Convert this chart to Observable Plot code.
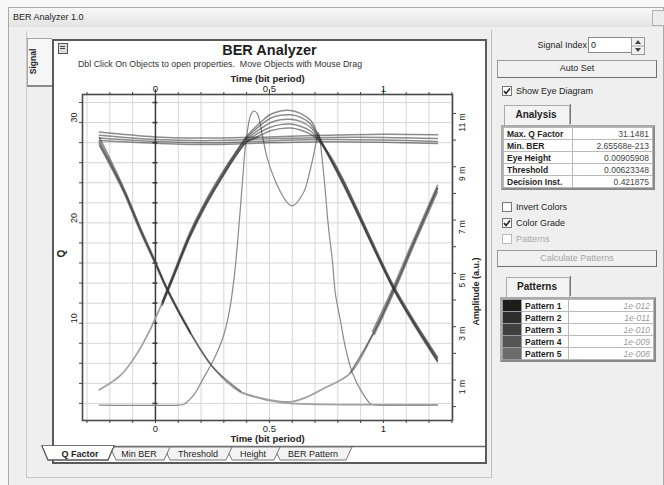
<!DOCTYPE html>
<html><head><meta charset="utf-8">
<script src="https://cdn.jsdelivr.net/npm/d3@7"></script>
<script src="https://cdn.jsdelivr.net/npm/@observablehq/plot@0.6"></script>
<style>
html,body{margin:0;padding:0}
body{width:664px;height:485px;background:#f7f7f7;font-family:"Liberation Sans",Arial,sans-serif;position:relative;overflow:hidden;color:#1e1e1e}
.a{position:absolute}
.t9{font-size:9px;line-height:11px;white-space:nowrap}
.btn{border:1px solid #9a9a9a;border-right-color:#6f6f6f;border-bottom-color:#6f6f6f;background:#f1f1f1;text-align:center;font-size:9px;line-height:15px}
table{border-collapse:collapse;font-size:8.5px}
td{border:1px solid #b9b9b9;height:11px;padding:0 3px;white-space:nowrap;background:#fff}
</style></head>
<body>
<!-- window chrome -->
<div class="a" style="left:8px;top:7px;width:654px;height:480px;border:1px solid #a9a9a9;background:#efefef"></div>
<div class="a" style="left:9px;top:8px;width:654px;height:19px;background:linear-gradient(#f7f7f7,#e3e3e3)"></div>
<div class="a t9" style="left:13px;top:12px">BER Analyzer 1.0</div>
<div class="a" style="left:652px;top:10px;width:12px;height:14px;border:1px solid #b0b0b0;background:#ececec"></div>
<div class="a" style="left:26px;top:31px;width:465px;height:446px;border-left:1px solid #c9c9c9;border-bottom:1px solid #c9c9c9"></div>
<div class="a" style="left:27px;top:38px;width:24px;height:47px;border:1px solid #a8a8a8;border-right:none;background:#f6f6f6"></div>
<div class="a" style="left:27px;top:85px;width:25px;height:2px;background:#8a8a8a"></div>
<div class="a t9" style="left:21px;top:56px;transform:rotate(-90deg);font-weight:bold;font-size:8.5px">Signal</div>
<div class="a" style="left:491px;top:30px;width:1px;height:448px;background:#bdbdbd"></div>

<!-- chart panel -->
<div class="a" style="left:52px;top:39px;width:431px;height:421px;border:2px solid #5a5a5a;background:#fff"></div>
<div class="a" style="left:58px;top:43px;width:8px;height:9px;border:1px solid #555;background:#ddd"></div>
<div class="a" style="left:60px;top:46px;width:5px;height:1px;background:#444"></div>
<div class="a" style="left:60px;top:48px;width:5px;height:1px;background:#444"></div>
<div class="a" style="left:54px;top:41px;width:431px;text-align:center;font-weight:bold;font-size:14.5px;line-height:18px">BER Analyzer</div>
<div class="a t9" style="left:78px;top:59px;font-size:8.8px;color:#333">Dbl Click On Objects to open properties.&nbsp; Move Objects with Mouse Drag</div>
<div id="chart" class="a" style="left:53px;top:70px"></div>
<svg class="a" style="left:38px;top:444px" width="450" height="22">
  <line x1="16" y1="2.5" x2="447" y2="2.5" stroke="#6a6a6a" stroke-width="1.5"/>
  <polygon points="236,3 242,16 308,16 314,3" fill="#f3f3f3" stroke="#777"/>
  <polygon points="188,3 194,16 236,16 242,3" fill="#f3f3f3" stroke="#777"/>
  <polygon points="126,3 132,16 188,16 194,3" fill="#f3f3f3" stroke="#777"/>
  <polygon points="72,3 78,16 126,16 132,3" fill="#f3f3f3" stroke="#777"/>
  <polygon points="4,2 10,16 70,16 76,2" fill="#fff" stroke="#555" stroke-width="1.3"/>
  <line x1="5" y1="3" x2="75" y2="3" stroke="#fff" stroke-width="2"/>
  <g font-family="Liberation Sans, Arial, sans-serif" font-size="9" fill="#222" text-anchor="middle">
    <text x="42" y="13" font-weight="bold">Q Factor</text>
    <text x="101" y="13">Min BER</text>
    <text x="160" y="13">Threshold</text>
    <text x="215" y="13">Height</text>
    <text x="275" y="13">BER Pattern</text>
  </g>
</svg>

<!-- right panel -->
<div class="a t9" style="left:528px;top:40px;width:59px;text-align:right">Signal Index</div>
<div class="a t9" style="left:588px;top:37px;width:40px;height:14px;border:1px solid #8a8a8a;background:#fff;padding-left:2px;line-height:14px">0</div>
<div class="a" style="left:631px;top:37px;width:12px;height:16px;border:1px solid #9a9a9a;background:#f1f1f1"></div>
<svg class="a" style="left:631px;top:37px" width="14" height="18"><path d="M4,7 L7,3 L10,7Z M4,11 L7,15 L10,11Z" fill="#444"/><line x1="1" y1="9" x2="13" y2="9" stroke="#aaa"/></svg>
<div class="a btn" style="left:497px;top:60px;width:158px;height:16px">Auto Set</div>

<svg class="a" style="left:502px;top:86px" width="11" height="11"><rect x="0.5" y="0.5" width="9" height="9" fill="#fff" stroke="#777"/><path d="M2,5 L4,7.5 L8,2.5" fill="none" stroke="#222" stroke-width="1.6"/></svg>
<div class="a t9" style="left:516px;top:86px">Show Eye Diagram</div>

<div class="a" style="left:504px;top:105px;width:64px;height:19px;border:1px solid #aaa;border-bottom:none;background:#f3f3f3"></div>
<div class="a" style="left:570px;top:104px;width:1px;height:20px;background:#777"></div>
<div class="a t9" style="left:504px;top:109px;width:64px;text-align:center;font-weight:bold;font-size:10px">Analysis</div>
<div class="a" style="left:501px;top:125px;border:2px solid #8a8a8a;border-top-color:#aaa;border-left-color:#aaa">
<table id="anal" style="width:150px"></table></div>

<svg class="a" style="left:502px;top:202px" width="11" height="11"><rect x="0.5" y="0.5" width="9" height="9" fill="#fff" stroke="#777"/></svg>
<div class="a t9" style="left:516px;top:202px">Invert Colors</div>
<svg class="a" style="left:502px;top:218px" width="11" height="11"><rect x="0.5" y="0.5" width="9" height="9" fill="#fff" stroke="#777"/><path d="M2,5 L4,7.5 L8,2.5" fill="none" stroke="#222" stroke-width="1.6"/></svg>
<div class="a t9" style="left:516px;top:218px">Color Grade</div>
<svg class="a" style="left:502px;top:234px" width="11" height="11"><rect x="0.5" y="0.5" width="9" height="9" fill="#fff" stroke="#bbb"/></svg>
<div class="a t9" style="left:516px;top:234px;color:#aaa">Patterns</div>
<div class="a btn" style="left:497px;top:250px;width:158px;height:15px;color:#a5a5a5;line-height:14px">Calculate Patterns</div>

<div class="a" style="left:506px;top:277px;width:62px;height:19px;border:1px solid #aaa;border-bottom:none;background:#f3f3f3"></div>
<div class="a" style="left:570px;top:276px;width:1px;height:20px;background:#777"></div>
<div class="a t9" style="left:506px;top:281px;width:62px;text-align:center;font-weight:bold;font-size:10px">Patterns</div>
<div class="a" style="left:500px;top:297px;border:2px solid #8a8a8a;border-top-color:#aaa;border-left-color:#aaa">
<table id="pat" style="width:152px"></table></div>

<script>
// ---------- panel data ----------
const analysisLabels = ["Max. Q Factor", "Min. BER", "Eye Height", "Threshold", "Decision Inst."];
const analysisValues = ["31.1481", "2.65568e-213", "0.00905908", "0.00623348", "0.421875"];
const patternLabels = ["Pattern 1", "Pattern 2", "Pattern 3", "Pattern 4", "Pattern 5"];
const patternValues = ["1e-012", "1e-011", "1e-010", "1e-009", "1e-008"];
const patternColors = ["#1c1c1c", "#2e2e2e", "#404040", "#545454", "#6c6c6c"];

// ---------- axis ticks ----------
const xDomain = [-0.32, 1.303];
const qDomain = [0.3, 32.8];
const ampDomain = [-0.52, 11.71];
const xMinorTicks = [-0.3,-0.2,-0.1,0,0.1,0.2,0.3,0.4,0.5,0.6,0.7,0.8,0.9,1,1.1,1.2,1.3];
const xLabelTicks = [0, 0.5, 1];
const qMinorTicks = [2,4,6,8,10,12,14,16,18,20,22,24,26,28,30,32];
const qLabelTicks = [10, 20, 30];
const ampMinorTicks = [0,1,2,3,4,5,6,7,8,9,10,11];
const ampLabelTicks = [1, 3, 5, 7, 9, 11];

// ---------- Q factor vs time [t, Q] ----------
const qFactor = [[-0.246,1.84],[0.1,1.84],[0.123,1.9],[0.17,2.9],[0.21,4.5],[0.254,6.3],[0.298,8.7],[0.325,11.3],[0.345,14.5],
 [0.36,18.0],[0.382,24.2],[0.395,27.7],[0.417,30.7],[0.43,31.15],[0.447,30.9],[0.469,28.7],[0.491,26.4],
 [0.535,23.7],[0.579,22.0],[0.601,21.7],[0.649,23.0],[0.68,25.4],[0.702,27.7],[0.715,29.0],[0.732,26.2],
 [0.746,22.9],[0.759,19.55],[0.776,16.27],[0.789,12.99],[0.811,10.3],[0.833,7.61],[0.864,5.03],[0.908,3.03],
 [0.945,1.95],[0.975,1.84],[1.237,1.84]];

// ---------- eye diagram traces [t, amplitude (m a.u.)] : light (sparse) ----------
const eyeRiseLeft = [[-0.246,0.63],[-0.15,1.2],[-0.08,2.0],[-0.02,2.95],[0.03,3.9],[0.08,4.95],[0.15,6.4],[0.22,7.6],[0.29,8.6],[0.35,9.4],[0.404,9.95],[0.45,10.1]];
const eyeFallRiseLow = [[-0.246,9.88],[-0.14,8.12],[-0.066,6.62],[0,5.38],[0.053,4.37],[0.154,2.76],[0.254,1.45],[0.373,0.55],
 [0.504,0.25],[0.592,0.18],[0.66,0.35],[0.737,0.68],[0.855,1.26],[0.956,2.76],[1.044,4.37],[1.132,6.13],[1.237,8.19]];
const eyeFallLow = [[0.373,0.55],[0.504,0.22],[0.592,0.12],[0.75,0.08],[0.95,0.07],[1.237,0.07]];

// ---------- eye diagram traces : dense (dark) ----------
const eyeHigh1 = [[-0.246,10.3],[0,10.12],[0.25,10.08],[0.5,10.12],[0.75,10.18],[1.0,10.22],[1.237,10.2]];
const eyeHigh2 = [[-0.246,10.18],[0,10.02],[0.25,9.98],[0.5,10.05],[0.75,10.1],[1.0,10.1],[1.237,10.06]];
const eyeHigh3 = [[-0.246,10.08],[0,9.95],[0.25,9.9],[0.5,9.97],[0.75,10.02],[1.0,10.0],[1.237,9.95]];
const eyeHigh4 = [[-0.246,9.98],[0,9.88],[0.25,9.83],[0.5,9.9],[0.75,9.94],[1.0,9.92],[1.237,9.87]];
const eyeFallA = [[-0.246,9.95],[-0.14,8.15],[-0.066,6.65],[0,5.4],[0.053,4.37],[0.154,2.76],[0.254,1.47],[0.373,0.58]];
const eyeFallB = [[-0.246,9.8],[-0.14,8.05],[-0.066,6.55],[0,5.33],[0.053,4.33],[0.154,2.73]];
const eyeFallC = [[-0.246,10.1],[-0.14,8.22],[-0.066,6.72],[0,5.45],[0.053,4.42],[0.154,2.8]];
const eyePulseA = [[0.03,3.9],[0.08,4.95],[0.15,6.45],[0.22,7.65],[0.29,8.68],[0.35,9.5],[0.404,10.18],[0.46,10.66],[0.504,10.96],[0.548,11.09],[0.592,11.11],[0.636,11.0],[0.68,10.74],[0.715,10.18],[0.768,9.31],[0.825,8.38],[0.886,7.29],[0.943,6.24],[1.044,4.45],[1.132,3.17],[1.237,1.75]];
const eyePulseB = [[0.03,3.95],[0.08,5.02],[0.15,6.52],[0.22,7.72],[0.29,8.74],[0.35,9.52],[0.404,10.12],[0.46,10.55],[0.504,10.82],[0.548,10.93],[0.592,10.95],[0.636,10.86],[0.68,10.6],[0.715,10.12],[0.768,9.25],[0.825,8.3],[0.886,7.22],[0.943,6.18],[1.044,4.4],[1.132,3.1],[1.237,1.68]];
const eyePulseC = [[0.03,3.85],[0.08,4.9],[0.15,6.38],[0.22,7.58],[0.29,8.6],[0.35,9.42],[0.404,10.05],[0.46,10.42],[0.504,10.65],[0.548,10.76],[0.592,10.78],[0.636,10.7],[0.68,10.48],[0.715,10.08],[0.768,9.35],[0.825,8.45],[0.886,7.36],[0.943,6.3],[1.044,4.5],[1.132,3.22],[1.237,1.82]];
const eyePulseD = [[0.03,3.8],[0.08,4.85],[0.15,6.32],[0.22,7.52],[0.29,8.55],[0.35,9.36],[0.404,9.98],[0.46,10.3],[0.504,10.48],[0.548,10.58],[0.592,10.6],[0.636,10.52],[0.68,10.34],[0.715,10.02],[0.768,9.4],[0.825,8.5],[0.886,7.4],[0.943,6.35],[1.044,4.55],[1.132,3.26],[1.237,1.86]];
const eyePulseE = [[0.404,9.95],[0.46,10.18],[0.504,10.35],[0.548,10.43],[0.592,10.45],[0.636,10.38],[0.68,10.22],[0.715,9.98],[0.768,9.28],[0.825,8.34],[0.886,7.25],[0.943,6.2],[1.044,4.42],[1.132,3.13],[1.237,1.72]];
const eyeRiseRightA = [[0.855,1.28],[0.956,2.76],[1.044,4.37],[1.132,6.13],[1.237,8.19]];
const eyeRiseRightB = [[0.96,2.7],[1.048,4.33],[1.136,6.1],[1.237,8.05]];
const eyeRiseRightC = [[0.952,2.82],[1.04,4.42],[1.128,6.18],[1.237,8.3]];

// ---------- panels ----------
document.getElementById("anal").innerHTML = analysisLabels.map((l,i) =>
  `<tr><td style="font-weight:bold;width:62px">${l}</td><td style="text-align:right;color:#444">${analysisValues[i]}</td></tr>`).join("");
document.getElementById("pat").innerHTML = patternLabels.map((l,i) =>
  `<tr><td style="width:12px;background:${patternColors[i]};border-color:#999"></td><td style="font-weight:bold;width:40px">${l}</td><td style="text-align:right;font-style:italic;color:#9a9a9a">${patternValues[i]}</td></tr>`).join("");

// ---------- chart ----------
const ampToQ = a => qDomain[0] + (a - ampDomain[0]) / (ampDomain[1] - ampDomain[0]) * (qDomain[1] - qDomain[0]);
const toRows = traces => traces.flatMap(([id, pts]) => pts.map(([t, a]) => ({id, t, q: ampToQ(a)})));
const lightRows = toRows([["riseL", eyeRiseLeft], ["fallRise", eyeFallRiseLow], ["fallLow", eyeFallLow]]);
const darkRows = toRows([["h1", eyeHigh1], ["h2", eyeHigh2], ["h3", eyeHigh3], ["h4", eyeHigh4],
  ["fA", eyeFallA], ["fB", eyeFallB], ["fC", eyeFallC],
  ["pA", eyePulseA], ["pB", eyePulseB], ["pC", eyePulseC], ["pD", eyePulseD], ["pE", eyePulseE],
  ["rA", eyeRiseRightA], ["rB", eyeRiseRightB], ["rC", eyeRiseRightC]]);

const chart = Plot.plot({
  width: 433, height: 377,
  marginLeft: 29, marginRight: 34, marginTop: 24, marginBottom: 27,
  style: {fontFamily: "Liberation Sans, Arial, sans-serif", fontSize: "9px", color: "#222", background: "transparent", overflow: "visible"},
  x: {domain: xDomain, axis: null},
  y: {domain: qDomain, axis: null},
  marks: [
    Plot.ruleX(xMinorTicks, {x: d => d, stroke: "#d6d6d6", strokeWidth: 1}),
    Plot.ruleY(qMinorTicks, {y: d => d, stroke: "#d6d6d6", strokeWidth: 1}),
    Plot.ruleX([0], {x: d => d, stroke: "#3a3a3a", strokeWidth: 1.5}),
    Plot.ruleY(qMinorTicks, {y: d => d, x1: -0.011, x2: 0.011, stroke: "#3a3a3a", strokeWidth: 1.5}),
    Plot.line(qFactor, {x: d => d[0], y: d => d[1], stroke: "#8a8a8a", strokeWidth: 1.2, curve: "catmull-rom"}),
    Plot.line(lightRows, {x: "t", y: "q", z: "id", stroke: "#a0a0a0", strokeWidth: 1.7, curve: "catmull-rom"}),
    Plot.line(darkRows, {x: "t", y: "q", z: "id", stroke: "#2e2e2e", strokeOpacity: 0.55, strokeWidth: 1.5, curve: "catmull-rom"}),
    Plot.frame({stroke: "#4a4a4a", strokeWidth: 1.6}),
    Plot.axisX(xMinorTicks, {anchor: "top", tickSize: 3, tickFormat: () => "", label: null, stroke: "#444"}),
    Plot.axisX(xLabelTicks, {anchor: "top", tickSize: 6, tickFormat: () => "", label: null, stroke: "#444"}),
    Plot.axisX(xMinorTicks, {anchor: "bottom", tickSize: 3, tickFormat: () => "", label: null, stroke: "#444"}),
    Plot.axisY(qMinorTicks, {anchor: "left", tickSize: 3, tickFormat: () => "", label: null, stroke: "#444"}),
    Plot.axisY(ampMinorTicks.map(ampToQ), {anchor: "right", tickSize: 3, tickFormat: () => "", label: null, stroke: "#444"}),
    Plot.text(xLabelTicks, {x: d => d, frameAnchor: "top", dy: -9, text: d => String(d), fontSize: 9.5}),
    Plot.text(xLabelTicks, {x: d => d, frameAnchor: "bottom", dy: 11, text: d => String(d), fontSize: 9.5}),
    Plot.text(qLabelTicks, {y: d => d, frameAnchor: "left", dx: -8, rotate: -90, text: d => String(d), fontSize: 9}),
    Plot.text(ampLabelTicks, {y: d => ampToQ(d), frameAnchor: "right", dx: 10, rotate: -90, text: d => d + " m", fontSize: 8.5}),
    Plot.text(["Time (bit period)"], {frameAnchor: "top", dy: -19, text: d => d, fontWeight: "bold", fontSize: 9.5}),
    Plot.text(["Time (bit period)"], {frameAnchor: "bottom", dy: 21, text: d => d, fontWeight: "bold", fontSize: 9.5}),
    Plot.text(["Q"], {frameAnchor: "left", dx: -21, rotate: -90, text: d => d, fontWeight: "bold", fontSize: 10}),
    Plot.text(["Amplitude (a.u.)"], {frameAnchor: "right", dx: 24, rotate: -90, text: d => d, fontWeight: "bold", fontSize: 9})
  ]
});
document.getElementById("chart").appendChild(chart);
</script>
</body></html>
